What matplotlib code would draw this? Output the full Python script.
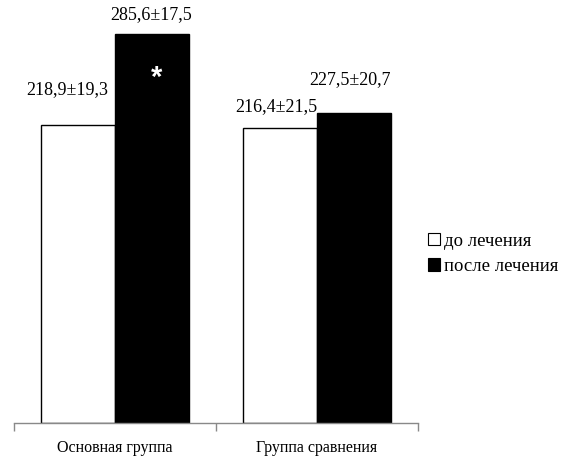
import matplotlib
matplotlib.use("Agg")
import matplotlib.pyplot as plt
from matplotlib.patches import Patch
import numpy as np

categories = ["Основная группа", "Группа сравнения"]
series_names = ["до лечения", "после лечения"]
before = [218.9, 216.4]
after = [285.6, 227.5]
before_labels = ["218,9±19,3", "216,4±21,5"]
after_labels = ["285,6±17,5", "227,5±20,7"]

plt.rcParams['font.family'] = ['Liberation Serif', 'DejaVu Serif']

fig = plt.figure(figsize=(5.81, 4.62), dpi=100)
ax = fig.add_axes([14/581, 39/462, 404/581, 413/462])

x = np.arange(len(categories))
w = 0.364
b1 = ax.bar(x - w/2, before, w, color='white', edgecolor='black', linewidth=1.0)
b2 = ax.bar(x + w/2, after, w, color='black', edgecolor='black', linewidth=1.0)

ax.set_xlim(-0.5, 1.5)
ax.set_ylim(0, 303)

# value labels (offsets in pixels: dx, dy from bar top center)
off_before = [(-11, 35), (-4, 21)]
off_after = [(-1, 19), (-4, 33)]
for i in range(len(categories)):
    ax.annotate(before_labels[i], (x[i] - w/2, before[i]), xytext=off_before[i],
                textcoords='offset pixels', ha='center', va='center', fontsize=13)
    ax.annotate(after_labels[i], (x[i] + w/2, after[i]), xytext=off_after[i],
                textcoords='offset pixels', ha='center', va='center', fontsize=13)

# asterisk in first black bar
ax.annotate("*", (x[0] + w/2, after[0]), xytext=(5, -44), textcoords='offset pixels',
            ha='center', va='center', fontsize=21, color='white', fontweight='bold',
            family=['Liberation Sans', 'DejaVu Sans'])

for s in ['left', 'top', 'right']:
    ax.spines[s].set_visible(False)
ax.spines['bottom'].set_color('#898989')
ax.spines['bottom'].set_linewidth(1.0)
ax.set_yticks([])
ax.set_xticks(x)
ax.set_xticklabels(categories, fontsize=11.5)
ax.tick_params(axis='x', which='major', length=0, pad=12)
ax.set_xticks([-0.5, 0.5, 1.5], minor=True)
ax.tick_params(axis='x', which='minor', length=6, color='#898989', width=1.0)

handles = [Patch(facecolor='white', edgecolor='black', linewidth=0.8),
           Patch(facecolor='black', edgecolor='black', linewidth=0.8)]
fig.legend(handles, series_names, loc='center left', bbox_to_anchor=(411/581, 1 - 254/462),
           frameon=False, fontsize=13.5, handlelength=0.65, handleheight=0.65,
           handletextpad=0.2, labelspacing=0.45)

fig.savefig("out.png", dpi=100)
